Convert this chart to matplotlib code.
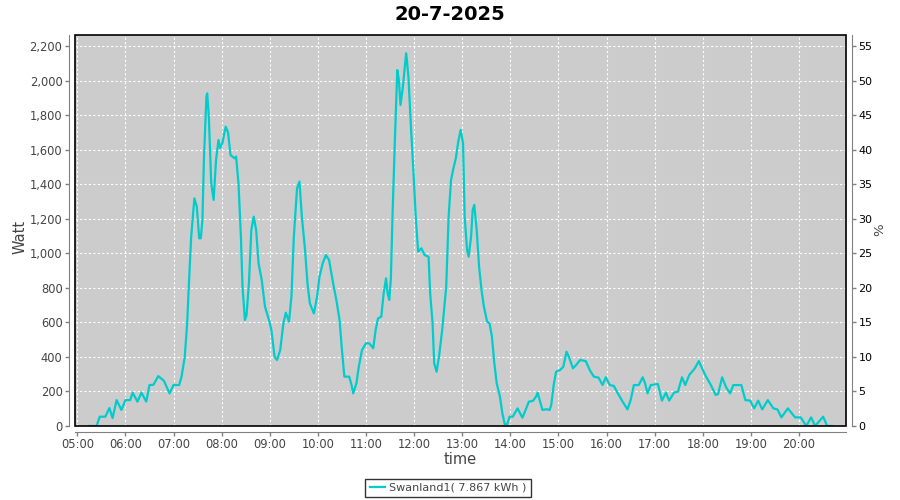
import matplotlib
matplotlib.use('Agg')
import matplotlib.pyplot as plt
import matplotlib.dates as mdates
from matplotlib.ticker import MultipleLocator, StrMethodFormatter
from matplotlib.patches import Rectangle
import pandas as pd

# data (time of day, power in watt)
times = ['05:14', '05:24', '05:28', '05:35', '05:40', '05:44', '05:49', '05:55', '06:00', '06:06',
         '06:09', '06:15', '06:20', '06:26', '06:30', '06:35', '06:41', '06:48', '06:55', '07:00',
         '07:07', '07:10', '07:14', '07:17', '07:19', '07:22', '07:26', '07:29', '07:32', '07:34',
         '07:36', '07:38', '07:41', '07:42', '07:44', '07:47', '07:50', '07:53', '07:56', '07:58',
         '08:01', '08:05', '08:08', '08:11', '08:16', '08:18', '08:21', '08:24', '08:26', '08:29',
         '08:31', '08:34', '08:37', '08:40', '08:43', '08:46', '08:50', '08:54', '08:59', '09:02',
         '09:06', '09:09', '09:13', '09:17', '09:20', '09:24', '09:27', '09:30', '09:34', '09:37',
         '09:40', '09:44', '09:47', '09:50', '09:55', '09:59', '10:02', '10:06', '10:10', '10:14',
         '10:19', '10:23', '10:27', '10:30', '10:33', '10:39', '10:42', '10:44', '10:48', '10:51',
         '10:55', '11:00', '11:04', '11:09', '11:12', '11:15', '11:19', '11:22', '11:25', '11:27',
         '11:29', '11:31', '11:33', '11:36', '11:39', '11:41', '11:43', '11:46', '11:50', '11:51',
         '11:53', '11:56', '11:59', '12:02', '12:05', '12:09', '12:13', '12:18', '12:20', '12:23',
         '12:25', '12:28', '12:31', '12:35', '12:40', '12:43', '12:46', '12:49', '12:52', '12:55',
         '12:58', '13:01', '13:03', '13:06', '13:08', '13:11', '13:13', '13:15', '13:18', '13:21',
         '13:24', '13:27', '13:31', '13:34', '13:37', '13:40', '13:43', '13:47', '13:50', '13:53',
         '13:56', '13:59', '14:03', '14:09', '14:15', '14:19', '14:23', '14:28', '14:32', '14:34',
         '14:36', '14:40', '14:45', '14:49', '14:51', '14:54', '14:57', '15:02', '15:06', '15:10',
         '15:13', '15:18', '15:22', '15:27', '15:34', '15:39', '15:44', '15:50', '15:55', '15:59',
         '16:04', '16:09', '16:14', '16:20', '16:26', '16:30', '16:34', '16:40', '16:45', '16:48',
         '16:51', '16:55', '17:04', '17:09', '17:14', '17:18', '17:24', '17:29', '17:34', '17:38',
         '17:43', '17:50', '17:55', '17:59', '18:04', '18:10', '18:16', '18:19', '18:24', '18:29',
         '18:34', '18:38', '18:48', '18:53', '18:59', '19:04', '19:09', '19:14', '19:21', '19:28',
         '19:33', '19:38', '19:46', '19:55', '20:02', '20:09', '20:15', '20:20', '20:30', '20:35',
         '20:41']
watts = [0, 0, 54, 54, 104, 46, 150, 93, 150, 150,
         193, 141, 193, 141, 237, 239, 289, 262, 189, 237,
         237, 286, 401, 596, 807, 1096, 1318, 1270, 1087, 1087,
         1193, 1559, 1907, 1926, 1791, 1405, 1309, 1540, 1656, 1609,
         1640, 1733, 1700, 1569, 1550, 1560, 1405, 1096, 807, 614,
         640, 826, 1135, 1212, 1135, 942, 845, 691, 614, 556,
         401, 382, 440, 595, 656, 604, 749, 1096, 1376, 1415,
         1212, 1019, 826, 710, 652, 749, 865, 942, 990, 960,
         826, 730, 614, 440, 286, 286, 237, 189, 247, 343,
         440, 479, 479, 450, 556, 623, 633, 768, 855, 768,
         730, 855, 1212, 1656, 2061, 2004, 1859, 1965, 2158, 2119,
         2013, 1733, 1482, 1212, 1009, 1029, 990, 980, 768, 595,
         363, 314, 401, 556, 807, 1212, 1424, 1492, 1550, 1646,
         1714, 1637, 1212, 1019, 980, 1096, 1251, 1280, 1135, 922,
         788, 691, 604, 595, 517, 363, 247, 170, 73, 10,
         10, 54, 54, 102, 48, 93, 141, 145, 170, 193,
         160, 93, 97, 93, 122, 237, 314, 324, 343, 430,
         401, 334, 353, 382, 376, 324, 286, 280, 237, 282,
         237, 232, 189, 141, 96, 150, 237, 237, 282, 247,
         189, 237, 243, 147, 193, 147, 193, 199, 282, 237,
         295, 334, 376, 334, 286, 237, 180, 185, 282, 224,
         189, 237, 237, 150, 147, 102, 147, 96, 150, 102,
         96, 50, 102, 50, 50, 0, 50, 0, 54, 0,
         0]

day = '2025-07-20'
title = '20-7-2025'
series_name = 'Swanland1( 7.867 kWh )'

x = pd.to_datetime([day + ' ' + t for t in times])

grey = '#808080'
text_col = '#444444'

fig = plt.figure(figsize=(9, 5), dpi=100)
ax = fig.add_axes([75 / 900, 74 / 500, 771 / 900, 391 / 500])
ax.set_facecolor('#cccccc')

line, = ax.plot(x, watts, color='#00cccc', lw=1.6)

# axes ranges
ax.set_xlim(pd.Timestamp(day + ' 04:57:08'), pd.Timestamp(day + ' 20:58:30'))
ax.set_ylim(0, 2264)
ax.yaxis.set_major_locator(MultipleLocator(200))
ax.yaxis.set_major_formatter(StrMethodFormatter('{x:,.0f}'))
ax.xaxis.set_major_locator(mdates.HourLocator())
ax.xaxis.set_major_formatter(mdates.DateFormatter('%H:%M'))
ax.grid(color='white', linestyle=(0, (2, 2)), lw=0.8)

# grey axis lines set a bit away from the plot, black frame round the plot
for s in ['top', 'right']:
    ax.spines[s].set_visible(False)
for s in ['left', 'bottom']:
    ax.spines[s].set_position(('outward', 4))
    ax.spines[s].set_color(grey)
ax.add_patch(Rectangle((0, 0), 1, 1, transform=ax.transAxes, fill=False,
                       edgecolor='black', lw=1.2, zorder=5, clip_on=False))
ax.tick_params(length=3, width=1, color=grey, labelcolor=text_col, labelsize=8.3, pad=2)

# right axis in percent
ax2 = ax.twinx()
ax2.set_ylim(0, 2264 / 40)
ax2.yaxis.set_major_locator(MultipleLocator(5))
for s in ['top', 'left', 'bottom']:
    ax2.spines[s].set_visible(False)
ax2.spines['right'].set_position(('outward', 4))
ax2.spines['right'].set_color(grey)
ax2.tick_params(length=3, width=1, color=grey, labelcolor='black', labelsize=8, pad=2)

# labels
ax.set_xlabel('time', fontsize=10.5, color=text_col)
ax.xaxis.set_label_coords(0.5, -(460 - 426) / 391)
ax.xaxis.label.set_va('center')
ax.set_ylabel('Watt', fontsize=10.5, color=text_col)
ax.yaxis.set_label_coords((20 - 75) / 771, (426 - 237) / 391)
ax.yaxis.label.set_va('center')
ax2.set_ylabel('%', fontsize=9.5, color=text_col)
ax2.yaxis.set_label_coords((880 - 75) / 771, (426 - 230) / 391)
ax2.yaxis.label.set_va('center')

fig.text(0.5, 1 - 14 / 500, title, ha='center', va='center', fontsize=14, fontweight='bold')

leg = fig.legend(handles=[line], labels=[series_name], loc='center',
                 bbox_to_anchor=(448 / 900, 1 - 488 / 500), frameon=True, fancybox=False,
                 edgecolor='black', fontsize=8, handlelength=1.4, handletextpad=0.3,
                 borderpad=0.4, borderaxespad=0)
leg.get_frame().set_linewidth(1)
for t in leg.get_texts():
    t.set_color(text_col)

fig.savefig('out.png', dpi=100)
